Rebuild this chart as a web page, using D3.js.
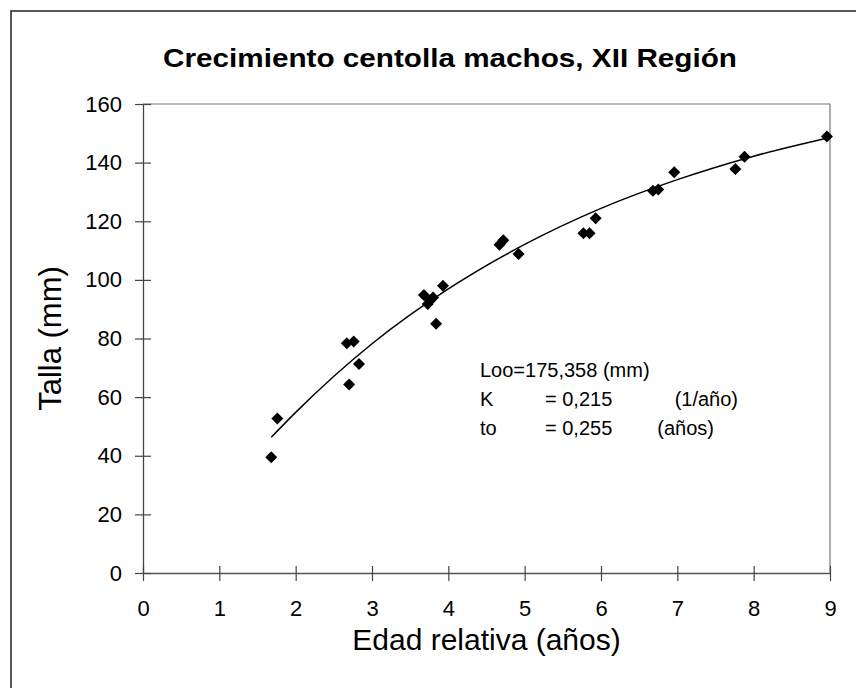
<!DOCTYPE html>
<html>
<head>
<meta charset="utf-8">
<script src="https://cdn.jsdelivr.net/npm/d3@7"></script>
<style>
html,body{margin:0;padding:0;background:#fff;}
svg{display:block;}
text{font-family:"Liberation Sans",Arial,sans-serif;fill:#000;}
</style>
</head>
<body>
<svg id="chart" width="856" height="688"></svg>
<script>
// Observed data: relative age (years) and carapace size (mm)
const edad = [1.68, 1.76, 2.70, 2.83, 2.67, 2.76, 3.84, 3.68, 3.73, 3.80, 3.76, 3.93,
              4.67, 4.72, 4.92, 5.77, 5.85, 5.93, 6.68, 6.75, 6.96, 7.76, 7.88, 8.96];
const talla = [39.5, 52.7, 64.3, 71.3, 78.4, 79.0, 85.0, 94.8, 91.8, 94.0, 93.0, 98.0,
               112.0, 113.5, 108.8, 115.9, 115.9, 121.0, 130.4, 130.8, 136.7, 137.8, 142.0, 148.9];
// Fitted growth curve
const curvaEdad = [1.68, 2, 3, 4, 5, 6, 7, 8, 9];
const curvaTalla = [46.3, 54.8, 78.2, 96.9, 112.1, 124.4, 134.2, 142.2, 148.6];
const xTicks = [0, 1, 2, 3, 4, 5, 6, 7, 8, 9];
const yTicks = [0, 20, 40, 60, 80, 100, 120, 140, 160];
const titulo = "Crecimiento centolla machos, XII Región";
const xLabel = "Edad relativa (años)";
const yLabel = "Talla (mm)";
const paramNames = ["Loo=175,358 (mm)", "K", "to"];
const paramVals = ["", "= 0,215", "= 0,255"];
const paramUnits = ["", "(1/año)", "(años)"];

const svg = d3.select("#chart");
const L = 143, R = 830, T = 104, B = 573;
const x = d3.scaleLinear().domain([0, 9]).range([L, R]);
const y = d3.scaleLinear().domain([0, 160]).range([B, T]);

// outer chart border
svg.append("path")
  .attr("d", `M11,688 L11,11 L856,11`)
  .attr("fill", "none").attr("stroke", "#222").attr("stroke-width", 1.5);

// title
svg.append("text")
  .attr("x", 163).attr("y", 67)
  .attr("font-size", 26.5).attr("font-weight", "bold")
  .attr("textLength", 574).attr("lengthAdjust", "spacingAndGlyphs")
  .text(titulo);

// plot frame (top and right)
svg.append("path")
  .attr("d", `M${L},${T} L${R},${T} L${R},${B}`)
  .attr("fill", "none").attr("stroke", "#777").attr("stroke-width", 1.2);

// axes
const xAxis = d3.axisBottom(x).tickValues(xTicks).tickSizeInner(0).tickSizeOuter(0).tickPadding(27);
const gx = svg.append("g").attr("transform", `translate(0,${B})`).call(xAxis);
gx.select(".domain").attr("stroke", "#555").attr("stroke-width", 1.3);
gx.selectAll(".tick text").attr("font-size", 22).attr("font-family", "Liberation Sans, Arial, sans-serif").attr("fill", "#000");
gx.selectAll(".tick").append("line").attr("y1", -7).attr("y2", 8).attr("stroke", "#444").attr("stroke-width", 1.2);

const yAxis = d3.axisLeft(y).tickValues(yTicks).tickSizeInner(0).tickSizeOuter(0).tickPadding(21);
const gy = svg.append("g").attr("transform", `translate(${L},0)`).call(yAxis);
gy.select(".domain").attr("stroke", "#444").attr("stroke-width", 1.3);
gy.selectAll(".tick text").attr("font-size", 22).attr("font-family", "Liberation Sans, Arial, sans-serif").attr("fill", "#000");
gy.selectAll(".tick").append("line").attr("x1", -8).attr("x2", 8).attr("stroke", "#444").attr("stroke-width", 1.2);

// axis labels
svg.append("text").attr("x", (L + R) / 2).attr("y", 650)
  .attr("text-anchor", "middle").attr("font-size", 30).text(xLabel);
svg.append("text").attr("transform", `translate(61,${(T + B) / 2}) rotate(-90)`)
  .attr("text-anchor", "middle").attr("font-size", 31).text(yLabel);

// fitted curve
const curve = curvaEdad.map((d, i) => [d, curvaTalla[i]]);
svg.append("path").datum(curve)
  .attr("d", d3.line().x(d => x(d[0])).y(d => y(d[1])).curve(d3.curveMonotoneX))
  .attr("fill", "none").attr("stroke", "#000").attr("stroke-width", 1.5);

// points
const pts = edad.map((d, i) => [d, talla[i]]);
svg.append("g").selectAll("path").data(pts).join("path")
  .attr("transform", d => `translate(${x(d[0])},${y(d[1])})`)
  .attr("d", "M0,-6L6,0L0,6L-6,0Z")
  .attr("fill", "#000");

// parameter annotation
const ann = svg.append("g");
paramNames.forEach((p, i) => {
  const yy = 377 + i * 29;
  ann.append("text").attr("x", 480).attr("y", yy).attr("font-size", 20).text(p);
  if (paramVals[i]) ann.append("text").attr("x", 545).attr("y", yy).attr("font-size", 20).text(paramVals[i]);
  if (paramUnits[i]) ann.append("text").attr("x", 738 - (i === 1 ? 0 : 24)).attr("y", yy)
    .attr("text-anchor", "end").attr("font-size", 20).text(paramUnits[i]);
});
</script>
</body>
</html>
